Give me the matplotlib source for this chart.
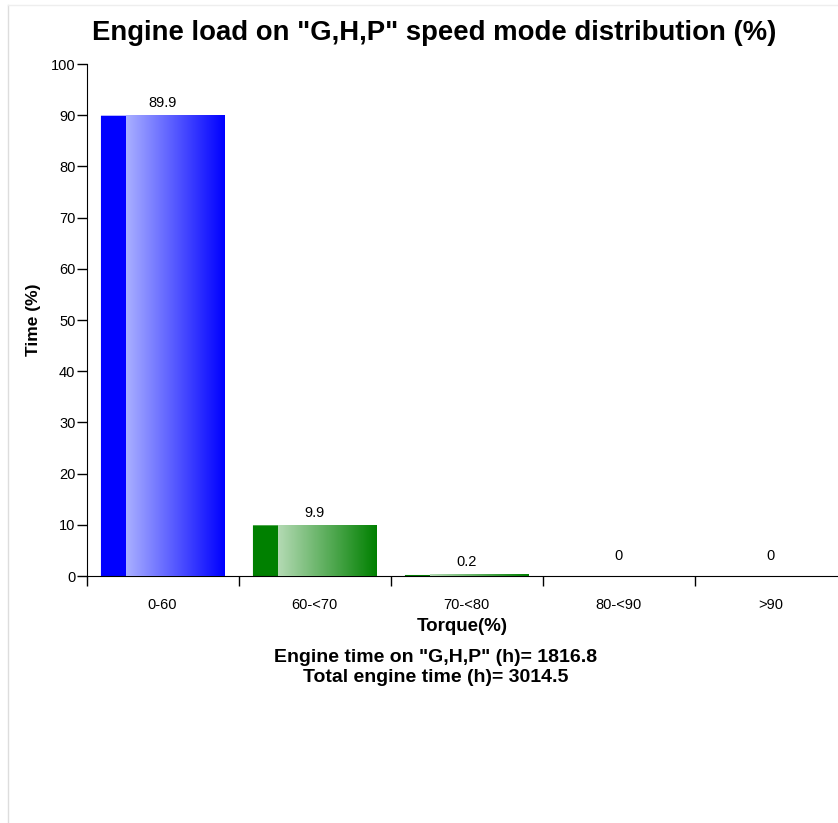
import numpy as np
import matplotlib.pyplot as plt
from matplotlib.colors import LinearSegmentedColormap
from matplotlib.lines import Line2D

plt.rcParams['font.family'] = ['Liberation Sans', 'DejaVu Sans']

# data
categories = ['0-60', '60-<70', '70-<80', '80-<90', '>90']
values = [89.9, 9.9, 0.2, 0, 0]
value_labels = ['89.9', '9.9', '0.2', '0', '0']
dark_colors = ['#0000ff', '#008000', '#008000', '#ff8000', '#ff0000']
light_colors = ['#aab0ff', '#b4dab4', '#b4dab4', '#ffd9b0', '#ffb0b0']
engine_time = 1816.8
total_time = 3014.5

fig = plt.figure(figsize=(8.38, 8.23), dpi=100)
ax = fig.add_axes([86.5 / 838, (823 - 576) / 823, (838 - 86.5) / 838, (576 - 64) / 823])

x = np.arange(len(categories)) + 0.5
width = 0.81
grad = np.linspace(0, 1, 256).reshape(1, -1)

for xi, v, dc, lc, lab in zip(x, values, dark_colors, light_colors, value_labels):
    x0 = xi - width / 2
    bars = ax.bar(xi, v, width=width, color=dc, edgecolor='none', zorder=2)
    for b in bars:
        b.set_snap(False)
    if v > 0:
        cmap = LinearSegmentedColormap.from_list('g', [lc, dc])
        ax.imshow(grad, cmap=cmap, aspect='auto', extent=(x0 + 0.2 * width, xi + width / 2, 0, v),
                  interpolation='bicubic', zorder=3)
    off = 4 if v > 0 else 9
    ax.annotate(lab, (xi, v), xytext=(0, off), textcoords='offset points',
                ha='center', va='bottom', fontsize=10.5)

ax.set_xlim(0, (838 - 86.5) / 152)
ax.set_ylim(0, 100)
ax.set_yticks(np.arange(0, 101, 10))
ax.set_xticks(np.arange(0, 5))
ax.set_xticklabels([])
ax.set_xticks(x, minor=True)
ax.set_xticklabels(categories, minor=True)
ax.tick_params(axis='x', which='minor', length=0, pad=15.5, labelsize=10.5)
ax.tick_params(axis='x', which='major', length=7, width=1)
ax.tick_params(axis='y', length=7, width=1, labelsize=10.5, pad=1)
ax.spines['top'].set_visible(False)
ax.spines['right'].set_visible(False)

ax.set_ylabel('Time (%)', fontsize=12.5, fontweight='bold', labelpad=7)
ax.set_xlabel('Torque(%)', fontsize=13.5, fontweight='bold', labelpad=5)

fig.text(434.5 / 838, 1 - 33 / 823, 'Engine load on "G,H,P" speed mode distribution (%)',
         ha='center', va='center', fontsize=19.8, fontweight='bold')
fig.text(436 / 838, 1 - 658 / 823, f'Engine time on "G,H,P" (h)= {engine_time}',
         ha='center', va='center', fontsize=14, fontweight='bold')
fig.text(436 / 838, 1 - 678 / 823, f'Total engine time (h)= {total_time}',
         ha='center', va='center', fontsize=14, fontweight='bold')

# faint page border
fig.add_artist(Line2D([7.5 / 838, 7.5 / 838], [0, 1 - 5 / 823], color='#dddddd', lw=1))
fig.add_artist(Line2D([7.5 / 838, 1], [1 - 5 / 823, 1 - 5 / 823], color='#eeeeee', lw=1))

plt.savefig('out.png', dpi=100)
